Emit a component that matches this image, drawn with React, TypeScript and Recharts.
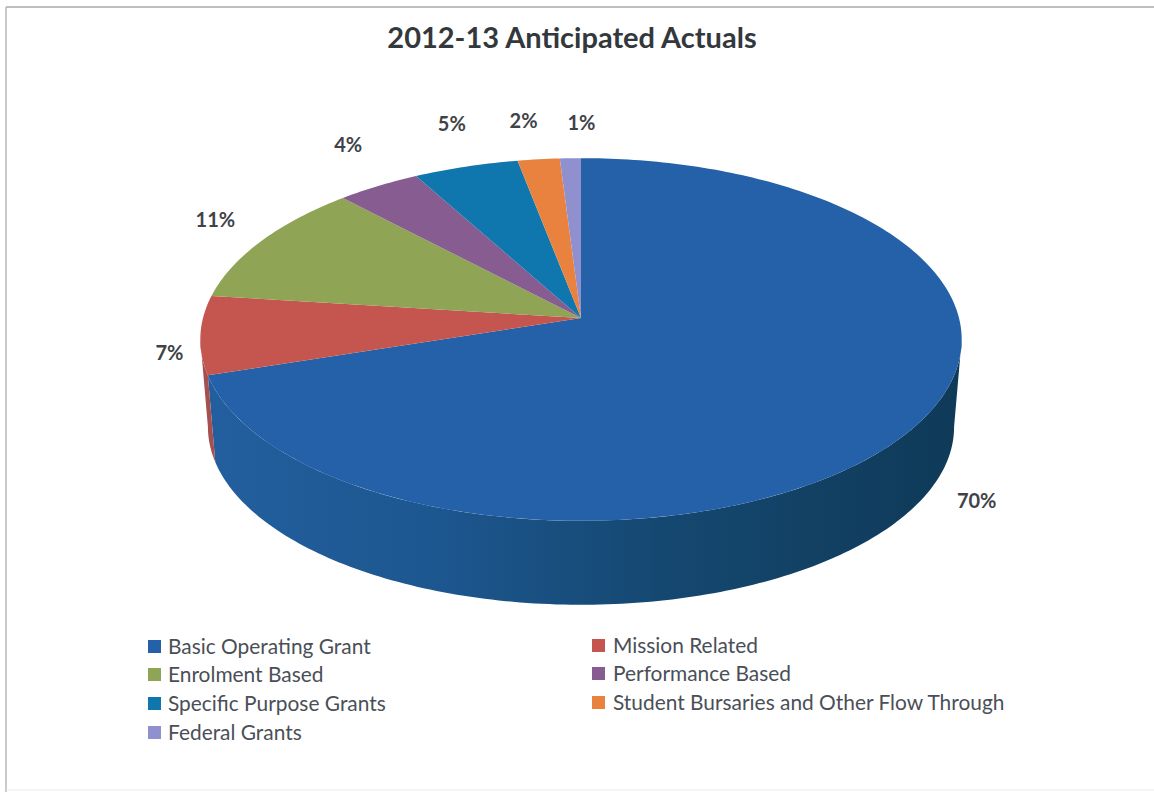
import { Legend, Pie, PieChart } from 'recharts';

const categories = [
  'Basic Operating Grant',
  'Mission Related',
  'Enrolment Based',
  'Performance Based',
  'Specific Purpose Grants',
  'Student Bursaries and Other Flow Through',
  'Federal Grants',
];
const shares = [70, 7, 11, 4, 5, 2, 1];
const faceColors = ['#2461a8', '#c4554f', '#8fa454', '#875c91', '#0f76ae', '#e9823f', '#9090cf'];
const wallColors = ['url(#basicWall)', '#a5504f', '#76883f', '#6d4a76', '#0c5f8d', '#bd6932', '#7474a7'];
// label offsets from the rim point of each slice
const labelNudges = [
  [67, 69],
  [-31, 17],
  [-46, -22],
  [-30, -42],
  [-14, -44],
  [-15, -39],
  [11, -36],
];

const faceData = categories.map((name, i) => ({ name, value: shares[i], fill: faceColors[i] }));
const wallData = categories.map((name, i) => ({ name, value: shares[i], fill: wallColors[i] }));

const FONT = 'Lato, "Open Sans", sans-serif';
const SQUASH = 0.473; // vertical foreshortening of the disc
const PERSPECTIVE = 0.1185;
const DEPTH = 88;
const BASE_SCALE = 0.98;
// the side is only visible between these two angles
const WALL_FROM = -6.8;
const WALL_TO = -173.2;

const rad = (deg: number) => (deg * Math.PI) / 180;

// Tilted disc: polar angle on the chart to a point on screen
const project = (cx: number, cy: number, r: number, deg: number, scale = 1, dy = 0) => {
  const x = Math.cos(rad(deg));
  const y = Math.sin(rad(deg));
  const d = 1 + PERSPECTIVE * y;
  return [cx + (scale * r * x) / d, cy + dy - (scale * r * SQUASH * y) / d];
};

const arc = (cx: number, cy: number, r: number, from: number, to: number, scale = 1, dy = 0) => {
  const steps = Math.max(2, Math.ceil(Math.abs(from - to)));
  const pts = [];
  for (let i = 0; i <= steps; i++) {
    pts.push(project(cx, cy, r, from + ((to - from) * i) / steps, scale, dy));
  }
  return pts;
};

const toPath = (pts: number[][]) =>
  pts.map((p, i) => `${i ? 'L' : 'M'}${p[0].toFixed(2)} ${p[1].toFixed(2)}`).join(' ') + ' Z';

const FaceSector = ({ cx, cy, outerRadius, startAngle, endAngle, fill }: any) => (
  <path d={toPath([[cx, cy], ...arc(cx, cy, outerRadius, startAngle, endAngle)])} fill={fill} />
);

const WallSector = ({ cx, cy, outerRadius, startAngle, endAngle, fill }: any) => {
  const from = Math.min(startAngle, WALL_FROM);
  const to = Math.max(endAngle, WALL_TO);
  if (from <= to) return null;
  const top = arc(cx, cy, outerRadius, from, to);
  const bottom = arc(cx, cy, outerRadius, to, from, BASE_SCALE, DEPTH);
  return <path d={toPath([...top, ...bottom])} fill={fill} />;
};

const renderLabel = ({ cx, cy, outerRadius, midAngle, index, value }: any) => {
  const [x, y] = project(cx, cy, outerRadius, midAngle);
  const [dx, dy] = labelNudges[index];
  return (
    <text
      x={x + dx}
      y={y + dy}
      textAnchor="middle"
      dominantBaseline="central"
      fontFamily={FONT}
      fontSize={20}
      fontWeight={700}
      fill="#3f4347"
    >
      {value}%
    </text>
  );
};

const legendRows = [646, 674, 703, 732];
const legendRowsRight = [645, 673, 702];

const renderLegend = () => (
  <div style={{ position: 'relative', width: 1154, height: 792, fontFamily: FONT, fontSize: 20.9, color: '#4a4f57' }}>
    {categories.map((name, i) => {
      const right = i % 2 === 1;
      const row = Math.floor(i / 2);
      const top = (right ? legendRowsRight : legendRows)[row];
      return (
        <div key={name} style={{ position: 'absolute', left: right ? 592 : 148, top: top - 13, height: 26, lineHeight: '26px', whiteSpace: 'nowrap' }}>
          <span style={{ position: 'absolute', left: 0, top: 7, width: 13, height: 13, background: faceColors[i] }} />
          <span style={{ position: 'absolute', left: right ? 21 : 20 }}>{name}</span>
        </div>
      );
    })}
  </div>
);

export default function App() {
  return (
    <div style={{ position: 'absolute', left: 0, top: 0, width: 1154, height: 792, background: '#fff', overflow: 'hidden' }}>
      <PieChart width={1154} height={792} margin={{ top: 0, right: 0, bottom: 0, left: 0 }}>
        <defs>
          <linearGradient id="basicWall" gradientUnits="userSpaceOnUse" x1="205" y1="0" x2="960" y2="0">
            <stop offset="0%" stopColor="#235f9f" />
            <stop offset="30%" stopColor="#1d5790" />
            <stop offset="60%" stopColor="#154871" />
            <stop offset="100%" stopColor="#0f3a58" />
          </linearGradient>
        </defs>
        {/* frame: the bottom edge is much fainter than the others */}
        <line x1={6} y1={7} x2={1154} y2={7} stroke="#a8a8a8" strokeWidth={1.5} />
        <line x1={6} y1={7} x2={6} y2={792} stroke="#b8b8b8" strokeWidth={1.5} />
        <line x1={6} y1={790} x2={1154} y2={790} stroke="#ececec" strokeWidth={1} />
        <text x={572} y={36} textAnchor="middle" dominantBaseline="central" fontFamily={FONT} fontSize={29} fontWeight={700} fill="#33383d">
          2012-13 Anticipated Actuals
        </text>
        <Pie
          data={wallData}
          dataKey="value"
          nameKey="name"
          cx={581}
          cy={318}
          outerRadius={378}
          startAngle={90}
          endAngle={-270}
          stroke="none"
          legendType="none"
          shape={WallSector}
          isAnimationActive={false}
        />
        <Pie
          data={faceData}
          dataKey="value"
          nameKey="name"
          cx={581}
          cy={318}
          outerRadius={378}
          startAngle={90}
          endAngle={-270}
          stroke="none"
          shape={FaceSector}
          label={renderLabel}
          labelLine={false}
          isAnimationActive={false}
        />
        <Legend content={renderLegend} wrapperStyle={{ position: 'absolute', left: 0, top: 0, width: 1154, height: 792, pointerEvents: 'none' }} />
      </PieChart>
    </div>
  );
}
